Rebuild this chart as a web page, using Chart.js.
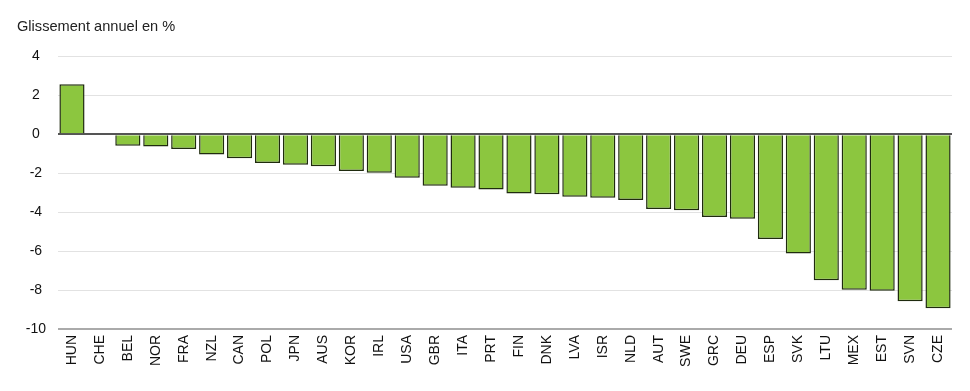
<!DOCTYPE html>
<html>
<head>
<meta charset="utf-8">
<script src="https://cdn.jsdelivr.net/npm/chart.js@4"></script>
<style>
html,body{margin:0;padding:0;background:#fff;}
#wrap{width:970px;height:391px;position:relative;}
</style>
</head>
<body>
<div id="wrap"><canvas id="c" width="970" height="391"></canvas></div>
<script>
const categories = ["HUN","CHE","BEL","NOR","FRA","NZL","CAN","POL","JPN","AUS","KOR","IRL","USA","GBR","ITA","PRT","FIN","DNK","LVA","ISR","NLD","AUT","SWE","GRC","DEU","ESP","SVK","LTU","MEX","EST","SVN","CZE"];
const values = [2.57,0,-0.58,-0.62,-0.75,-1.03,-1.23,-1.47,-1.56,-1.64,-1.88,-1.97,-2.23,-2.64,-2.74,-2.83,-3.04,-3.08,-3.21,-3.25,-3.37,-3.83,-3.9,-4.24,-4.34,-5.37,-6.12,-7.49,-7.98,-8.03,-8.58,-8.94];
const yTicks = [4,2,0,-2,-4,-6,-8,-10];
const titleText = "Glissement annuel en %";

const FONT = "'Liberation Sans', Arial, sans-serif";
new Chart(document.getElementById('c'), {
  type: 'bar',
  data: {
    labels: categories,
    datasets: [{
      data: values,
      backgroundColor: '#8cc63f',
      borderColor: '#1f2b0e',
      borderWidth: 1.5,
      barPercentage: 0.9,
      categoryPercentage: 1.0
    }]
  },
  options: {
    responsive: false,
    animation: false,
    layout: { padding: { left: 17, right: 18, top: 2, bottom: 0 } },
    plugins: {
      legend: { display: false },
      tooltip: { enabled: false },
      title: {
        display: true,
        text: titleText,
        align: 'start',
        color: '#222',
        font: { family: FONT, size: 14.6, weight: 'normal' },
        padding: { top: 16, bottom: 21 }
      }
    },
    scales: {
      x: {
        grid: { display: false },
        border: { display: false },
        afterFit: (s) => { s.height = 62; },
        ticks: {
          autoSkip: false,
          minRotation: 90,
          maxRotation: 90,
          padding: -2,
          color: '#111',
          font: { family: FONT, size: 14 }
        }
      },
      y: {
        min: -10,
        max: 4,
        z: 1,
        afterFit: (s) => { s.width = 41; },
        afterBuildTicks: (s) => { s.ticks = yTicks.map(v => ({ value: v })); },
        border: { display: false },
        grid: {
          drawTicks: false,
          color: (ctx) => ctx.tick && ctx.tick.value === 0 ? '#555' : (ctx.tick && ctx.tick.value === -10 ? '#aaa' : 'rgba(190,190,190,0.45)'),
          lineWidth: (ctx) => ctx.tick && (ctx.tick.value === 0 || ctx.tick.value === -10) ? 2 : 1
        },
        ticks: {
          padding: 12,
          crossAlign: 'center',
          color: '#111',
          font: { family: FONT, size: 14 }
        }
      }
    }
  }
});
</script>
</body>
</html>
